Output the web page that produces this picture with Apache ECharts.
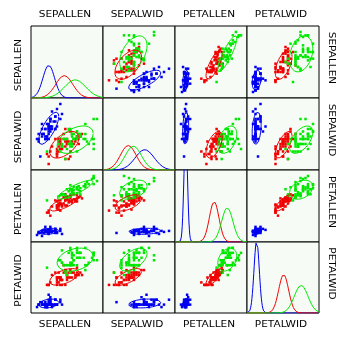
<!DOCTYPE html>
<html>
<head>
<meta charset="utf-8">
<script src="https://cdn.jsdelivr.net/npm/echarts@6/dist/echarts.min.js"></script>
<style>
html,body{margin:0;padding:0;background:#ffffff;}
#chart{width:355px;height:349px;}
</style>
</head>
<body>
<div id="chart"></div>
<script>
// Fisher's iris measurements (cm): sepal length, sepal width, petal length, petal width
const variables = ['SEPALLEN', 'SEPALWID', 'PETALLEN', 'PETALWID'];
const speciesColors = ['#0000f0', '#f00000', '#00e800'];

const setosa = [
  [5.1,3.5,1.4,0.2],[4.9,3.0,1.4,0.2],[4.7,3.2,1.3,0.2],[4.6,3.1,1.5,0.2],[5.0,3.6,1.4,0.2],
  [5.4,3.9,1.7,0.4],[4.6,3.4,1.4,0.3],[5.0,3.4,1.5,0.2],[4.4,2.9,1.4,0.2],[4.9,3.1,1.5,0.1],
  [5.4,3.7,1.5,0.2],[4.8,3.4,1.6,0.2],[4.8,3.0,1.4,0.1],[4.3,3.0,1.1,0.1],[5.8,4.0,1.2,0.2],
  [5.7,4.4,1.5,0.4],[5.4,3.9,1.3,0.4],[5.1,3.5,1.4,0.3],[5.7,3.8,1.7,0.3],[5.1,3.8,1.5,0.3],
  [5.4,3.4,1.7,0.2],[5.1,3.7,1.5,0.4],[4.6,3.6,1.0,0.2],[5.1,3.3,1.7,0.5],[4.8,3.4,1.9,0.2],
  [5.0,3.0,1.6,0.2],[5.0,3.4,1.6,0.4],[5.2,3.5,1.5,0.2],[5.2,3.4,1.4,0.2],[4.7,3.2,1.6,0.2],
  [4.8,3.1,1.6,0.2],[5.4,3.4,1.5,0.4],[5.2,4.1,1.5,0.1],[5.5,4.2,1.4,0.2],[4.9,3.1,1.5,0.2],
  [5.0,3.2,1.2,0.2],[5.5,3.5,1.3,0.2],[4.9,3.6,1.4,0.1],[4.4,3.0,1.3,0.2],[5.1,3.4,1.5,0.2],
  [5.0,3.5,1.3,0.3],[4.5,2.3,1.3,0.3],[4.4,3.2,1.3,0.2],[5.0,3.5,1.6,0.6],[5.1,3.8,1.9,0.4],
  [4.8,3.0,1.4,0.3],[5.1,3.8,1.6,0.2],[4.6,3.2,1.4,0.2],[5.3,3.7,1.5,0.2],[5.0,3.3,1.4,0.2]
];

const versicolor = [
  [7.0,3.2,4.7,1.4],[6.4,3.2,4.5,1.5],[6.9,3.1,4.9,1.5],[5.5,2.3,4.0,1.3],[6.5,2.8,4.6,1.5],
  [5.7,2.8,4.5,1.3],[6.3,3.3,4.7,1.6],[4.9,2.4,3.3,1.0],[6.6,2.9,4.6,1.3],[5.2,2.7,3.9,1.4],
  [5.0,2.0,3.5,1.0],[5.9,3.0,4.2,1.5],[6.0,2.2,4.0,1.0],[6.1,2.9,4.7,1.4],[5.6,2.9,3.6,1.3],
  [6.7,3.1,4.4,1.4],[5.6,3.0,4.5,1.5],[5.8,2.7,4.1,1.0],[6.2,2.2,4.5,1.5],[5.6,2.5,3.9,1.1],
  [5.9,3.2,4.8,1.8],[6.1,2.8,4.0,1.3],[6.3,2.5,4.9,1.5],[6.1,2.8,4.7,1.2],[6.4,2.9,4.3,1.3],
  [6.6,3.0,4.4,1.4],[6.8,2.8,4.8,1.4],[6.7,3.0,5.0,1.7],[6.0,2.9,4.5,1.5],[5.7,2.6,3.5,1.0],
  [5.5,2.4,3.8,1.1],[5.5,2.4,3.7,1.0],[5.8,2.7,3.9,1.2],[6.0,2.7,5.1,1.6],[5.4,3.0,4.5,1.5],
  [6.0,3.4,4.5,1.6],[6.7,3.1,4.7,1.5],[6.3,2.3,4.4,1.3],[5.6,3.0,4.1,1.3],[5.5,2.5,4.0,1.3],
  [5.5,2.6,4.4,1.2],[6.1,3.0,4.6,1.4],[5.8,2.6,4.0,1.2],[5.0,2.3,3.3,1.0],[5.6,2.7,4.2,1.3],
  [5.7,3.0,4.2,1.2],[5.7,2.9,4.2,1.3],[6.2,2.9,4.3,1.3],[5.1,2.5,3.0,1.1],[5.7,2.8,4.1,1.3]
];

const virginica = [
  [6.3,3.3,6.0,2.5],[5.8,2.7,5.1,1.9],[7.1,3.0,5.9,2.1],[6.3,2.9,5.6,1.8],[6.5,3.0,5.8,2.2],
  [7.6,3.0,6.6,2.1],[4.9,2.5,4.5,1.7],[7.3,2.9,6.3,1.8],[6.7,2.5,5.8,1.8],[7.2,3.6,6.1,2.5],
  [6.5,3.2,5.1,2.0],[6.4,2.7,5.3,1.9],[6.8,3.0,5.5,2.1],[5.7,2.5,5.0,2.0],[5.8,2.8,5.1,2.4],
  [6.4,3.2,5.3,2.3],[6.5,3.0,5.5,1.8],[7.7,3.8,6.7,2.2],[7.7,2.6,6.9,2.3],[6.0,2.2,5.0,1.5],
  [6.9,3.2,5.7,2.3],[5.6,2.8,4.9,2.0],[7.7,2.8,6.7,2.0],[6.3,2.7,4.9,1.8],[6.7,3.3,5.7,2.1],
  [7.2,3.2,6.0,1.8],[6.2,2.8,4.8,1.8],[6.1,3.0,4.9,1.8],[6.4,2.8,5.6,2.1],[7.2,3.0,5.8,1.6],
  [7.4,2.8,6.1,1.9],[7.9,3.8,6.4,2.0],[6.4,2.8,5.6,2.2],[6.3,2.8,5.1,1.5],[6.1,2.6,5.6,1.4],
  [7.7,3.0,6.1,2.3],[6.3,3.4,5.6,2.4],[6.4,3.1,5.5,1.8],[6.0,3.0,4.8,1.8],[6.9,3.1,5.4,2.1],
  [6.7,3.1,5.6,2.4],[6.9,3.1,5.1,2.3],[5.8,2.7,5.1,1.9],[6.8,3.2,5.9,2.3],[6.7,3.3,5.7,2.5],
  [6.7,3.0,5.2,2.3],[6.3,2.5,5.0,1.9],[6.5,3.0,5.2,2.0],[6.2,3.4,5.4,2.3],[5.9,3.0,5.1,1.8]
];

const groups = [setosa, versicolor, virginica];

// ---- layout of the 4x4 panel matrix ----
const cellLeft = [31, 103, 175, 247];
const cellTop = [26, 98, 170, 242];
const cellW = [72, 72, 72, 72];
const cellH = [72, 72, 72, 71];
const panelBg = '#f6fbf6';
const ellipseScale = 1.7;   // radius of the concentration ellipse in SD units
const densityTop = 10.75;   // vertical limit of the diagonal density panels

// ---- statistics ----
function col(rows, k) { return rows.map(r => r[k]); }
function mean(a) { return a.reduce((s, v) => s + v, 0) / a.length; }
function sd(a) { const m = mean(a); return Math.sqrt(a.reduce((s, v) => s + (v - m) * (v - m), 0) / (a.length - 1)); }
function corr(a, b) {
  const ma = mean(a), mb = mean(b);
  let sab = 0, saa = 0, sbb = 0;
  for (let i = 0; i < a.length; i++) {
    sab += (a[i] - ma) * (b[i] - mb);
    saa += (a[i] - ma) * (a[i] - ma);
    sbb += (b[i] - mb) * (b[i] - mb);
  }
  return sab / Math.sqrt(saa * sbb);
}

// Axis limits: observed range padded by 10% on each side
const allRows = groups.flat();
const ranges = variables.map((v, k) => {
  const vals = col(allRows, k);
  const lo = Math.min(...vals), hi = Math.max(...vals);
  const pad = (hi - lo) * 0.1;
  return [lo - pad, hi + pad];
});

function densityCurve(rows, k) {
  const a = col(rows, k), m = mean(a), s = sd(a);
  const [lo, hi] = ranges[k], span = hi - lo;
  const pts = [];
  const n = 160;
  for (let i = 0; i <= n; i++) {
    const x = lo + span * i / n;
    const z = (x - m) / s;
    const f = Math.exp(-0.5 * z * z) / (s * Math.sqrt(2 * Math.PI));
    pts.push([x, f * span]);
  }
  return pts;
}

function ellipse(rows, kx, ky) {
  const ax = col(rows, kx), ay = col(rows, ky);
  const mx = mean(ax), my = mean(ay), sx = sd(ax), sy = sd(ay), r = corr(ax, ay);
  const q = Math.sqrt(1 - r * r);
  const pts = [];
  const n = 120;
  for (let i = 0; i <= n; i++) {
    const t = 2 * Math.PI * i / n;
    const c = Math.cos(t), s = Math.sin(t);
    pts.push([mx + ellipseScale * sx * c, my + ellipseScale * sy * (r * c + q * s)]);
  }
  return pts;
}

// ---- build option ----
const grid = [], xAxis = [], yAxis = [], series = [];
let g = 0;
for (let i = 0; i < 4; i++) {          // row variable (vertical)
  for (let j = 0; j < 4; j++) {        // column variable (horizontal)
    grid.push({
      left: cellLeft[j], top: cellTop[i], width: cellW[j], height: cellH[i],
      show: true, backgroundColor: panelBg, borderColor: '#000', borderWidth: 1
    });
    const hidden = { show: false };
    xAxis.push({ gridIndex: g, type: 'value', min: ranges[j][0], max: ranges[j][1],
      axisLine: hidden, axisTick: hidden, axisLabel: hidden, splitLine: hidden });
    if (i === j) {
      yAxis.push({ gridIndex: g, type: 'value', min: 0, max: densityTop,
        axisLine: hidden, axisTick: hidden, axisLabel: hidden, splitLine: hidden });
      groups.forEach((rows, s) => {
        series.push({
          type: 'line', xAxisIndex: g, yAxisIndex: g, data: densityCurve(rows, j),
          showSymbol: false, clip: true, silent: true,
          lineStyle: { color: speciesColors[s], width: 1 }
        });
      });
    } else {
      yAxis.push({ gridIndex: g, type: 'value', min: ranges[i][0], max: ranges[i][1],
        axisLine: hidden, axisTick: hidden, axisLabel: hidden, splitLine: hidden });
      groups.forEach((rows, s) => {
        series.push({
          type: 'scatter', xAxisIndex: g, yAxisIndex: g,
          data: rows.map(r => [r[j], r[i]]),
          symbol: 'rect', symbolSize: 2.5, silent: true,
          itemStyle: { color: speciesColors[s], borderWidth: 0, opacity: 1 }
        });
        series.push({
          type: 'line', xAxisIndex: g, yAxisIndex: g, data: ellipse(rows, j, i),
          showSymbol: false, clip: true, silent: true,
          lineStyle: { color: speciesColors[s], width: 1 }
        });
      });
    }
    g++;
  }
}

// ---- variable names around the matrix ----
const labelFont = { fontSize: 9, fontFamily: 'DejaVu Sans', fill: '#000' };
const graphic = [];
variables.forEach((name, k) => {
  const cx = cellLeft[k] + cellW[k] / 2 - 2;
  const cy = cellTop[k] + cellH[k] / 2;
  graphic.push({ type: 'text', x: cx, y: 15, scaleX: 1.17,
    style: Object.assign({ text: name, align: 'center', verticalAlign: 'middle' }, labelFont) });
  graphic.push({ type: 'text', x: cx, y: 325, scaleX: 1.17,
    style: Object.assign({ text: name, align: 'center', verticalAlign: 'middle' }, labelFont) });
  graphic.push({ type: 'text', x: 19, y: cy + 3, rotation: Math.PI / 2, scaleX: 1.17,
    style: Object.assign({ text: name, align: 'center', verticalAlign: 'middle' }, labelFont) });
  graphic.push({ type: 'text', x: 331, y: cy - 4, rotation: -Math.PI / 2, scaleX: 1.17,
    style: Object.assign({ text: name, align: 'center', verticalAlign: 'middle' }, labelFont) });
});

const chart = echarts.init(document.getElementById('chart'), null, { renderer: 'canvas' });
chart.setOption({
  animation: false,
  backgroundColor: '#ffffff',
  grid, xAxis, yAxis, series, graphic
});
</script>
</body>
</html>
